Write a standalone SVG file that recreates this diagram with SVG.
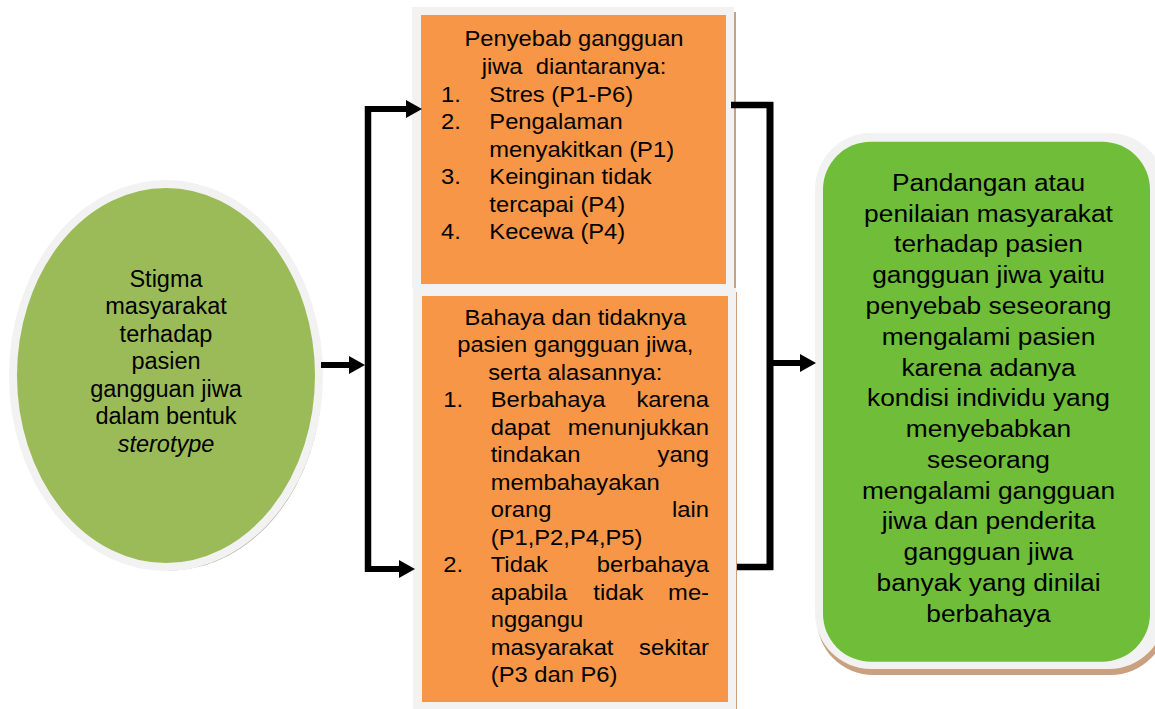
<svg xmlns="http://www.w3.org/2000/svg" width="1155" height="709" viewBox="0 0 1155 709">
<style>
.t{font-family:"Liberation Sans",Arial,sans-serif;fill:#000}
.e{font-size:23.5px;text-anchor:middle}
.o{font-size:22px}
.g{font-size:23.3px;text-anchor:middle}
.c{text-anchor:middle}
.r{text-anchor:end}
.ln{stroke:#000;fill:none;stroke-linecap:butt}
</style>
<defs>
<marker id="ah" markerUnits="userSpaceOnUse" markerWidth="17" markerHeight="19" refX="0" refY="9" orient="auto">
<path d="M0,0 L16,9 L0,18 z" fill="#000"/>
</marker>
</defs>
<rect width="1155" height="709" fill="#fff"/>

<g id="node-stigma">
<ellipse cx="169" cy="379" rx="153" ry="191.5" fill="#a7b08f"/>
<ellipse cx="166" cy="375.5" rx="153" ry="191.5" fill="#9bbb59" stroke="#f2f2f2" stroke-width="8"/>
<text class="t e" x="166" y="286.7">Stigma</text>
<text class="t e" x="166" y="314.2">masyarakat</text>
<text class="t e" x="166" y="341.7">terhadap</text>
<text class="t e" x="166" y="369.2">pasien</text>
<text class="t e" x="166" y="396.7">gangguan jiwa</text>
<text class="t e" x="166" y="424.2">dalam bentuk</text>
<text class="t e" x="166" y="451.7" font-style="italic">sterotype</text>
</g>

<g id="node-penyebab">
<rect x="415" y="12" width="321" height="276" fill="#c9a080"/>
<rect x="412" y="7" width="322" height="281" fill="#f2f2f2"/>
<rect x="421" y="15" width="305" height="269" fill="#f79646"/>
<g transform="scale(1.08,1)">
<text class="t o c" x="531.5" y="46.5">Penyebab gangguan</text>
<text class="t o c" x="531.5" y="74" style="white-space:pre">jiwa  diantaranya:</text>
<text class="t o" x="408.3" y="101.6">1.</text>
<text class="t o" x="453.1" y="101.6">Stres (P1-P6)</text>
<text class="t o" x="408.3" y="129.2">2.</text>
<text class="t o" x="453.1" y="129.2">Pengalaman</text>
<text class="t o" x="453.1" y="156.7">menyakitkan (P1)</text>
<text class="t o" x="408.3" y="184.3">3.</text>
<text class="t o" x="453.1" y="184.3">Keinginan tidak</text>
<text class="t o" x="453.1" y="211.8">tercapai (P4)</text>
<text class="t o" x="408.3" y="239.4">4.</text>
<text class="t o" x="453.1" y="239.4">Kecewa (P4)</text>
</g>
</g>

<g id="node-bahaya">
<rect x="416" y="292" width="321" height="425" fill="#c9a080"/>
<rect x="413" y="288" width="323" height="425" fill="#f2f2f2"/>
<rect x="422" y="296" width="306" height="406" fill="#f79646"/>
<g transform="scale(1.08,1)">
<text class="t o c" x="532.7" y="325">Bahaya dan tidaknya</text>
<text class="t o c" x="532.7" y="352.5">pasien gangguan jiwa,</text>
<text class="t o c" x="532.7" y="380">serta alasannya:</text>
<text class="t o" x="410.5" y="407.5">1.</text>
<text class="t o" x="454.4" y="407.5">Berbahaya</text>
<text class="t o r" x="656.5" y="407.5">karena</text>
<text class="t o" x="454.4" y="435">dapat</text>
<text class="t o r" x="656.5" y="435">menunjukkan</text>
<text class="t o" x="454.4" y="462.5">tindakan</text>
<text class="t o r" x="656.5" y="462.5">yang</text>
<text class="t o" x="454.4" y="490">membahayakan</text>
<text class="t o" x="454.4" y="517.5">orang</text>
<text class="t o r" x="656.5" y="517.5">lain</text>
<text class="t o" x="454.4" y="545">(P1,P2,P4,P5)</text>
<text class="t o" x="410.5" y="572.5">2.</text>
<text class="t o" x="454.4" y="572.5">Tidak</text>
<text class="t o r" x="656.5" y="572.5">berbahaya</text>
<text class="t o" x="454.4" y="600">apabila</text>
<text class="t o" x="549.4" y="600">tidak</text>
<text class="t o r" x="656.5" y="600">me-</text>
<text class="t o" x="454.4" y="627.5">nggangu</text>
<text class="t o" x="454.4" y="655">masyarakat</text>
<text class="t o r" x="656.5" y="655">sekitar</text>
<text class="t o" x="454.4" y="682.5">(P3 dan P6)</text>
</g>
</g>

<g id="node-pandangan">
<rect x="817" y="139" width="350" height="536" rx="56" fill="#c9a080"/>
<rect x="815" y="133" width="350" height="536" rx="56" fill="#f2f2f2"/>
<rect x="823" y="141.7" width="327" height="520" rx="48" fill="#6fbd38"/>
<g transform="scale(1.13,1)">
<text class="t g" x="874.8" y="191">Pandangan atau</text>
<text class="t g" x="874.8" y="221.8">penilaian masyarakat</text>
<text class="t g" x="874.8" y="252.5">terhadap pasien</text>
<text class="t g" x="874.8" y="283.3">gangguan jiwa yaitu</text>
<text class="t g" x="874.8" y="314.1">penyebab seseorang</text>
<text class="t g" x="874.8" y="344.9">mengalami pasien</text>
<text class="t g" x="874.8" y="375.6">karena adanya</text>
<text class="t g" x="874.8" y="406.4">kondisi individu yang</text>
<text class="t g" x="874.8" y="437.2">menyebabkan</text>
<text class="t g" x="874.8" y="467.9">seseorang</text>
<text class="t g" x="874.8" y="498.7">mengalami gangguan</text>
<text class="t g" x="874.8" y="529.5">jiwa dan penderita</text>
<text class="t g" x="874.8" y="560.2">gangguan jiwa</text>
<text class="t g" x="874.8" y="591">banyak yang dinilai</text>
<text class="t g" x="874.8" y="621.8">berbahaya</text>
</g>
</g>

<g id="connectors">
<path class="ln" d="M321,365 H349" stroke-width="6" marker-end="url(#ah)"/>
<path class="ln" d="M368,106 V572" stroke-width="6.5"/>
<path class="ln" d="M365,109 H406" stroke-width="6" marker-end="url(#ah)"/>
<path class="ln" d="M365,569 H399" stroke-width="6" marker-end="url(#ah)"/>
<path class="ln" d="M731,105 H773" stroke-width="6.5"/>
<path class="ln" d="M770,102 V570" stroke-width="7"/>
<path class="ln" d="M737,567 H773" stroke-width="6.5"/>
<path class="ln" d="M770,363 H800" stroke-width="6" marker-end="url(#ah)"/>
</g>
</svg>
